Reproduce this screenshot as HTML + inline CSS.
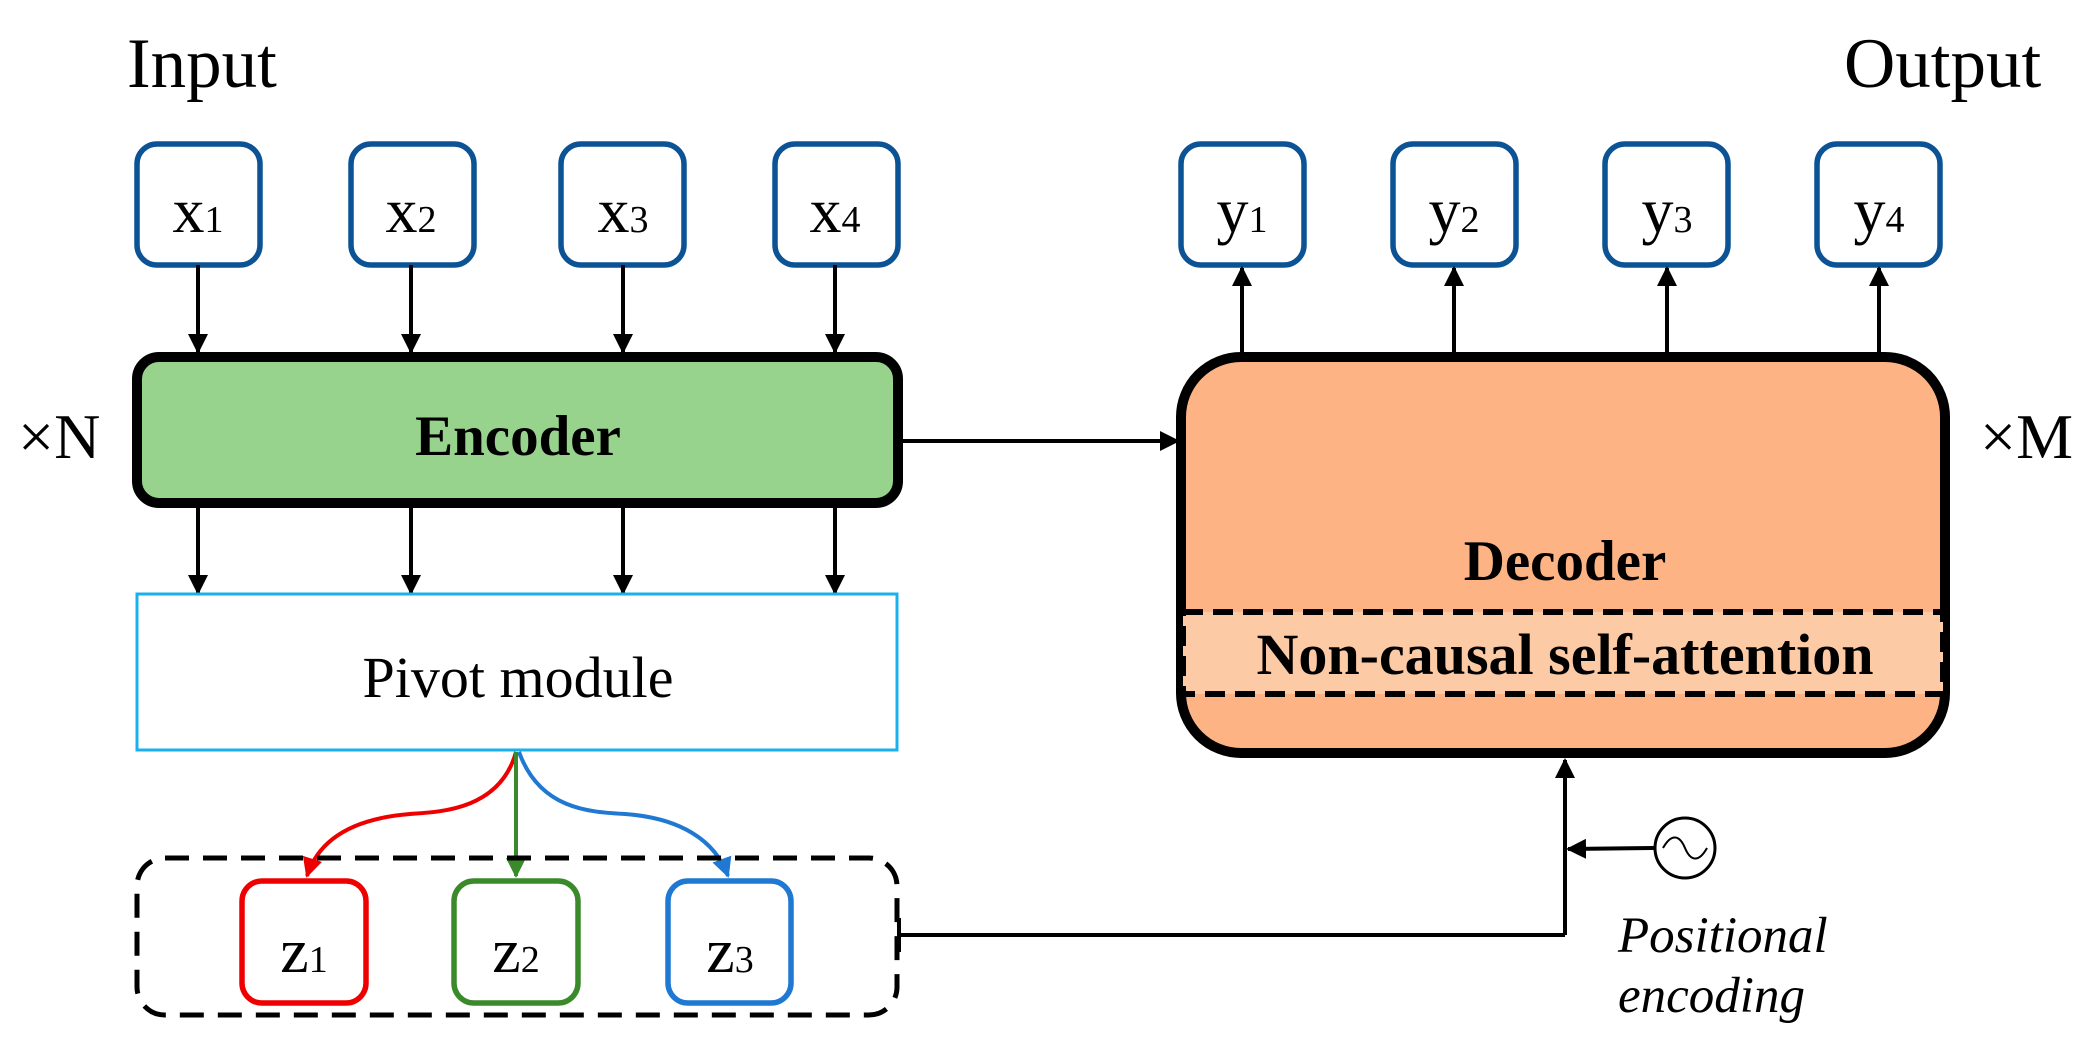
<!DOCTYPE html>
<html><head><meta charset="utf-8"><style>
html,body{margin:0;padding:0;background:#fff;}
svg{display:block;font-family:"Liberation Serif",serif;}
</style></head><body>
<svg width="2095" height="1059" viewBox="0 0 2095 1059" xmlns="http://www.w3.org/2000/svg">
<defs>
<marker id="a" viewBox="0 0 10 10" refX="9" refY="5" markerWidth="20" markerHeight="20" markerUnits="userSpaceOnUse" orient="auto"><path d="M0,0 L10,5 L0,10 z" fill="#000"/></marker>
<marker id="ar" viewBox="0 0 10 10" refX="9" refY="5" markerWidth="20" markerHeight="20" markerUnits="userSpaceOnUse" orient="auto"><path d="M0,0 L10,5 L0,10 z" fill="#e00"/></marker>
<marker id="ag" viewBox="0 0 10 10" refX="9" refY="5" markerWidth="20" markerHeight="20" markerUnits="userSpaceOnUse" orient="auto"><path d="M0,0 L10,5 L0,10 z" fill="#3a8a2c"/></marker>
<marker id="ab" viewBox="0 0 10 10" refX="9" refY="5" markerWidth="20" markerHeight="20" markerUnits="userSpaceOnUse" orient="auto"><path d="M0,0 L10,5 L0,10 z" fill="#1f78d1"/></marker>
</defs>

<text x="127" y="87" font-size="71">Input</text>
<text x="1844" y="87" font-size="71">Output</text>
<text x="18" y="458" font-size="64">×N</text>
<text x="1980" y="458" font-size="64">×M</text>

<g fill="#fff" stroke="#0b5394" stroke-width="5.5">
<rect x="137" y="144" width="123" height="121" rx="20"/>
<rect x="351" y="144" width="123" height="121" rx="20"/>
<rect x="561" y="144" width="123" height="121" rx="20"/>
<rect x="775" y="144" width="123" height="121" rx="20"/>
<rect x="1181" y="144" width="123" height="121" rx="20"/>
<rect x="1393" y="144" width="123" height="121" rx="20"/>
<rect x="1605" y="144" width="123" height="121" rx="20"/>
<rect x="1817" y="144" width="123" height="121" rx="20"/>
</g>
<g font-size="64" text-anchor="middle">
<text x="198" y="232">x<tspan font-size="38">1</tspan></text>
<text x="411" y="232">x<tspan font-size="38">2</tspan></text>
<text x="623" y="232">x<tspan font-size="38">3</tspan></text>
<text x="835" y="232">x<tspan font-size="38">4</tspan></text>
<text x="1242" y="232">y<tspan font-size="38">1</tspan></text>
<text x="1454" y="232">y<tspan font-size="38">2</tspan></text>
<text x="1667" y="232">y<tspan font-size="38">3</tspan></text>
<text x="1879" y="232">y<tspan font-size="38">4</tspan></text>
</g>

<g stroke="#000" stroke-width="4" marker-end="url(#a)">
<line x1="198" y1="265" x2="198" y2="352"/>
<line x1="411" y1="265" x2="411" y2="352"/>
<line x1="623" y1="265" x2="623" y2="352"/>
<line x1="835" y1="265" x2="835" y2="352"/>
<line x1="198" y1="505" x2="198" y2="593"/>
<line x1="411" y1="505" x2="411" y2="593"/>
<line x1="623" y1="505" x2="623" y2="593"/>
<line x1="835" y1="505" x2="835" y2="593"/>
<line x1="1242" y1="354" x2="1242" y2="268"/>
<line x1="1454" y1="354" x2="1454" y2="268"/>
<line x1="1667" y1="354" x2="1667" y2="268"/>
<line x1="1879" y1="354" x2="1879" y2="268"/>
<line x1="898" y1="441" x2="1178" y2="441"/>
<line x1="1565" y1="935" x2="1565" y2="760"/>
<line x1="1655" y1="848" x2="1568" y2="849"/>
</g>
<polyline points="897,935 1565,935" fill="none" stroke="#000" stroke-width="4"/>
<line x1="899" y1="918" x2="899" y2="952" stroke="#000" stroke-width="4"/>

<rect x="137" y="357" width="761" height="146" rx="22" fill="#97d38c" stroke="#000" stroke-width="10"/>
<text x="518" y="455" font-size="57" font-weight="bold" text-anchor="middle">Encoder</text>

<rect x="137" y="594" width="760" height="156" fill="#fff" stroke="#1ab0ee" stroke-width="3"/>
<text x="518" y="697" font-size="58" text-anchor="middle">Pivot module</text>

<path d="M516,752 C500,810 440,812 410,814 C360,818 320,835 307,876" fill="none" stroke="#e00" stroke-width="4" marker-end="url(#ar)"/>
<line x1="516" y1="752" x2="516" y2="876" stroke="#3a8a2c" stroke-width="4" marker-end="url(#ag)"/>
<path d="M519,752 C540,810 590,812 625,814 C680,818 715,840 728,876" fill="none" stroke="#1f78d1" stroke-width="4" marker-end="url(#ab)"/>

<rect x="137" y="858" width="760" height="157" rx="28" fill="none" stroke="#000" stroke-width="5" stroke-dasharray="24,14"/>
<rect x="242" y="881" width="124" height="122" rx="20" fill="#fff" stroke="#e00" stroke-width="5.5"/>
<rect x="454" y="881" width="124" height="122" rx="20" fill="#fff" stroke="#3a8a2c" stroke-width="5.5"/>
<rect x="668" y="881" width="123" height="122" rx="20" fill="#fff" stroke="#1f78d1" stroke-width="5.5"/>
<g font-size="64" text-anchor="middle">
<text x="304" y="972">z<tspan font-size="38">1</tspan></text>
<text x="516" y="972">z<tspan font-size="38">2</tspan></text>
<text x="730" y="972">z<tspan font-size="38">3</tspan></text>
</g>

<rect x="1181" y="357" width="764" height="396" rx="60" fill="#fdb384" stroke="#000" stroke-width="10"/>
<text x="1565" y="580" font-size="57" font-weight="bold" text-anchor="middle">Decoder</text>
<rect x="1183" y="612" width="760" height="82" fill="#fdcaa6" stroke="#000" stroke-width="6" stroke-dasharray="20,10"/>
<text x="1565" y="674" font-size="58" font-weight="bold" text-anchor="middle">Non-causal self-attention</text>

<circle cx="1685" cy="848" r="30" fill="#fff" stroke="#000" stroke-width="3"/>
<path d="M1663,848 C1672,832 1680,836 1685,848 C1690,860 1698,864 1707,848" fill="none" stroke="#000" stroke-width="2"/>
<text x="1618" y="952" font-size="51" font-style="italic">Positional</text>
<text x="1618" y="1012" font-size="51" font-style="italic">encoding</text>
</svg>
</body></html>
